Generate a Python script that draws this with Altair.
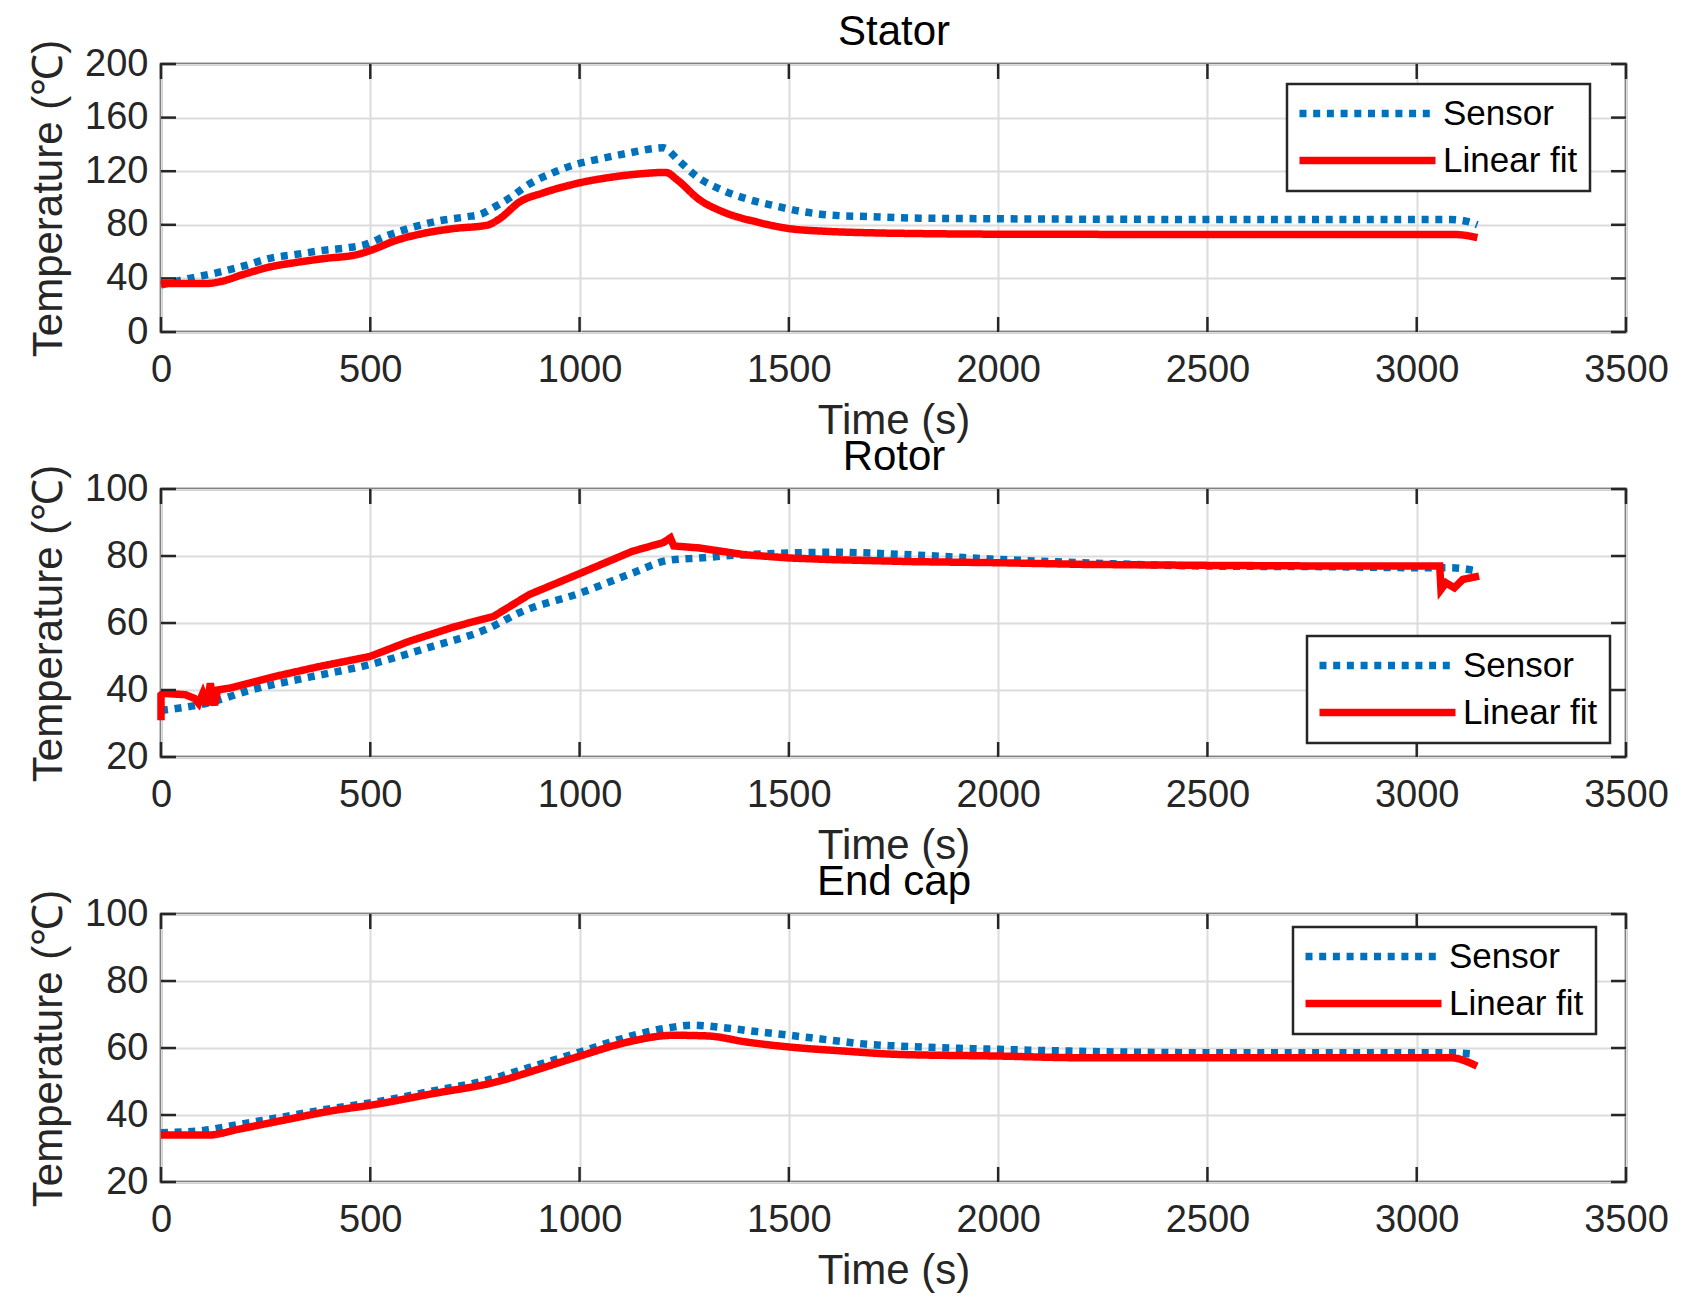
import altair as alt
import pandas as pd

FONT = "Liberation Sans"
DARK = "#262626"
BLUE = "#0072BD"
RED = "#FF0000"
W, H = 1465, 268
TICK = 15
X_TICKS = [0, 500, 1000, 1500, 2000, 2500, 3000, 3500]
SERIES = ["Sensor", "Linear fit"]

# ---------------- data ----------------
stator_sensor_t = [0, 60, 130, 200, 260, 325, 390, 450, 485, 540, 600, 665, 730, 765, 795, 838, 870, 930, 990,
                   1050, 1115, 1180, 1200, 1235, 1280, 1340, 1400, 1460, 1530, 1590, 1700, 1800, 2000, 2500,
                   3000, 3080, 3120, 3145]
stator_sensor_T = [35, 39.5, 44, 49.5, 55, 58, 61, 63, 65, 72, 78, 83, 86, 88, 93, 101, 108.5, 118, 125,
                   129.3, 133.4, 137, 137.5, 128.5, 116, 106, 99.3, 94.6, 90, 87.5, 86, 85, 84.5, 84,
                   84, 84, 82.5, 80]
stator_fit_t = [0, 110, 143, 197, 261, 325, 389, 469, 506, 560, 624, 699, 779, 806, 859, 912, 998, 1073,
                1147, 1206, 1233, 1286, 1340, 1425, 1500, 1585, 1700, 1800, 2000, 2500, 3000, 3095, 3145]
stator_fit_T = [36.2, 36.2, 37.7, 43, 48.6, 52, 54.8, 57.8, 61.5, 68.2, 73.4, 77.2, 79.7, 83.9, 97.5, 103.7,
                111.2, 115.4, 118.1, 119.1, 113.6, 98.8, 90, 82, 77.2, 75.2, 74, 73.5, 73, 72.8, 72.8, 72.7, 70.4]

rotor_sensor_t = [0, 111, 218, 357, 499, 635, 784, 859, 1003, 1126, 1212, 1286, 1393, 1502, 1607, 1800,
                  2000, 2200, 2500, 2800, 3000, 3080, 3145]
rotor_sensor_T = [33.9, 36.1, 40.1, 43.9, 47.6, 52.5, 58.5, 63.2, 69, 74.9, 78.7, 79.4, 80.4, 80.9, 81.1,
                  80.3, 79, 78, 77, 76.8, 76.5, 76.5, 75.5]
rotor_fit_t = [0, 0, 5, 58, 80, 90, 100, 110, 118, 122, 128, 135, 165, 271, 378, 499, 592, 699, 795, 880,
               1003, 1126, 1200, 1217, 1225, 1286, 1393, 1502, 1607, 1800, 2000, 2200, 2500, 2800, 3000,
               3055, 3058, 3070, 3090, 3110, 3149]
rotor_fit_T = [31, 38.5, 39, 38.6, 37.5, 36, 39, 35.5, 42, 38, 35.5, 40, 40.6, 44, 47, 50, 54.5, 58.8, 62,
               68.5, 74.9, 81.4, 84, 85.4, 83, 82.4, 80.4, 79.4, 78.9, 78.3, 78, 77.5, 77.2, 77, 77,
               77, 70, 72, 70.5, 73, 74]

endcap_sensor_t = [0, 102, 183, 299, 415, 499, 646, 785, 877, 1001, 1109, 1202, 1271, 1341, 1422, 1501,
                   1596, 1688, 1758, 2000, 2500, 3000, 3080, 3140]
endcap_sensor_T = [34.7, 35.4, 37.1, 39.6, 42.1, 43.6, 47.1, 50.6, 54.1, 58.8, 63.1, 65.8, 66.8, 66.1,
                   64.9, 63.8, 62.4, 61.1, 60.6, 59.6, 58.6, 58.6, 58.6, 58.1]
endcap_fit_t = [0, 113, 183, 299, 415, 499, 646, 808, 900, 1001, 1109, 1225, 1306, 1398, 1501, 1630, 1758,
                2000, 2200, 2500, 3000, 3080, 3144]
endcap_fit_T = [34, 34, 35.7, 38.6, 41.4, 42.9, 46.3, 50.1, 53.6, 57.6, 61.6, 63.8, 63.6, 61.8, 60.3, 59.1,
                58.1, 57.6, 57.1, 57.1, 57.1, 57.1, 54.6]


def frame(ts, Ts, name):
    return pd.DataFrame({"t": ts, "T": Ts, "series": name, "i": list(range(len(ts)))})


def panel(title, s_t, s_T, f_t, f_T, ydom, ystep, lx, ly, fit_interp):
    xs = alt.Scale(domain=[0, 3500], nice=False, zero=False)
    ys = alt.Scale(domain=ydom, nice=False, zero=False)
    y_ticks = list(range(ydom[0], ydom[1] + 1, ystep))

    legend = alt.Legend(
        title=None, orient="none", legendX=lx, legendY=ly,
        symbolType="M-10,0H10", symbolSize=185, symbolStrokeWidth=7.5, symbolOffset=51,
        labelFont=FONT, labelFontSize=35, labelColor="black", labelLimit=400,
        labelOffset=58, padding=12, rowPadding=11,
        strokeColor=DARK, fillColor="white",
    )
    color = alt.Color("series:N", scale=alt.Scale(domain=SERIES, range=[BLUE, RED]), legend=legend)
    dash = alt.StrokeDash("series:N", scale=alt.Scale(domain=SERIES, range=[[7, 6.7], [1, 0]]), legend=legend)

    main_x = alt.Axis(values=X_TICKS, format="d", ticks=False, tickSize=0, domain=False,
                      labelFont=FONT, labelFontSize=38, labelColor=DARK, labelPadding=19, labelFlush=False,
                      title="Time (s)", titleFont=FONT, titleFontSize=42, titleFontWeight="normal",
                      titleColor=DARK, titlePadding=11,
                      grid=True, gridColor="#dcdcdc", gridWidth=2)
    main_y = alt.Axis(values=y_ticks, format="d", ticks=False, tickSize=0, domain=False,
                      labelFont=FONT, labelFontSize=38, labelColor=DARK, labelPadding=13,
                      title="Temperature (℃)", titleFont=FONT, titleFontSize=42, titleFontWeight="normal",
                      titleColor=DARK, titlePadding=14,
                      grid=True, gridColor="#dcdcdc", gridWidth=2)
    # panel title drawn as the title of a top axis (no labels / ticks)
    title_x = alt.Axis(orient="top", values=X_TICKS, labels=False, ticks=False, domain=False, grid=False,
                       minExtent=0, maxExtent=0,
                       title=title, titleFont=FONT, titleFontSize=42, titleFontWeight="normal",
                       titleColor="black", titleBaseline="bottom", titlePadding=11)

    sensor = alt.Chart(frame(s_t, s_T, "Sensor")).mark_line(strokeWidth=7.5, interpolate="monotone").encode(
        x=alt.X("t:Q", scale=xs, axis=main_x),
        y=alt.Y("T:Q", scale=ys, axis=main_y),
        color=color, strokeDash=dash, order=alt.Order("i:Q"),
    )
    fit = alt.Chart(frame(f_t, f_T, "Linear fit")).mark_line(strokeWidth=7.5, interpolate=fit_interp).encode(
        x=alt.X("t:Q", scale=xs, axis=None),
        y=alt.Y("T:Q", scale=ys, axis=None),
        color=color, strokeDash=dash, order=alt.Order("i:Q"),
    )

    # inward tick marks on all four sides (MATLAB box style), positioned by the scales
    xt = pd.DataFrame({"v": X_TICKS})
    yt = pd.DataFrame({"v": y_ticks})
    rule = dict(color=DARK, strokeWidth=2.5)
    tick_top = alt.Chart(xt).mark_rule(**rule).encode(
        x=alt.X("v:Q", scale=xs, axis=title_x), y=alt.value(0), y2=alt.value(TICK))
    tick_bot = alt.Chart(xt).mark_rule(**rule).encode(
        x=alt.X("v:Q", scale=xs, axis=None), y=alt.value(H), y2=alt.value(H - TICK))
    tick_left = alt.Chart(yt).mark_rule(**rule).encode(
        y=alt.Y("v:Q", scale=ys, axis=None), x=alt.value(0), x2=alt.value(TICK))
    tick_right = alt.Chart(yt).mark_rule(**rule).encode(
        y=alt.Y("v:Q", scale=ys, axis=None), x=alt.value(W), x2=alt.value(W - TICK))

    return alt.layer(sensor, fit, tick_top, tick_bot, tick_left, tick_right).resolve_axis(
        x="independent", y="independent").properties(width=W, height=H)


p1 = panel("Stator", stator_sensor_t, stator_sensor_T, stator_fit_t, stator_fit_T, [0, 200], 40, 1126, 20, "monotone")
p2 = panel("Rotor", rotor_sensor_t, rotor_sensor_T, rotor_fit_t, rotor_fit_T, [20, 100], 20, 1146, 147, "linear")
p3 = panel("End cap", endcap_sensor_t, endcap_sensor_T, endcap_fit_t, endcap_fit_T, [20, 100], 20, 1132, 13, "monotone")

chart = alt.vconcat(p1, p2, p3, spacing=-10).resolve_scale(
    color="independent", strokeDash="independent"
).resolve_legend(
    color="independent", strokeDash="independent"
).properties(
    padding={"left": 18, "top": 0, "right": 5, "bottom": 2},
    background="white",
).configure_view(stroke=DARK, strokeWidth=2.5).configure_legend(strokeWidth=2.5)

chart.save("out.html", embed_options={"renderer": "svg", "actions": False})
